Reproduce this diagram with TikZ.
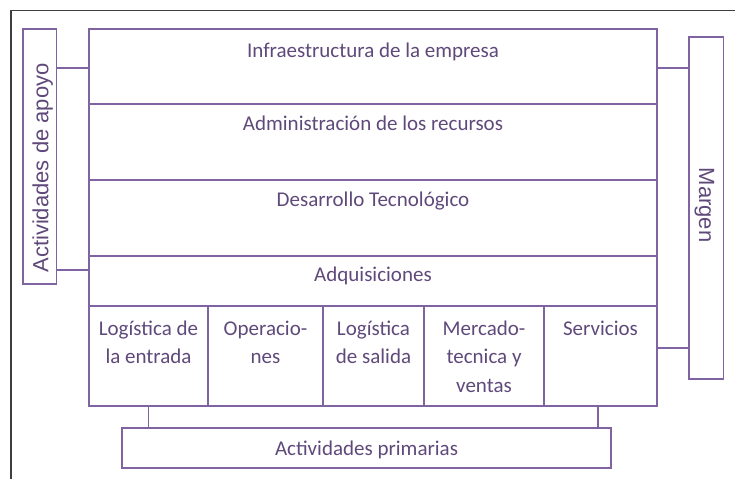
\documentclass[tikz,border=0pt]{standalone}
\usepackage{fontspec}
\setmainfont{Carlito}
\newfontfamily\arialf{Liberation Sans}
\usetikzlibrary{calc}
\definecolor{lin}{HTML}{8064A2}
\definecolor{txt}{HTML}{5F497A}
\definecolor{frm}{HTML}{3F3F3F}
\begin{document}
\begin{tikzpicture}[x=1pt,y=-1pt,
  box/.style={draw=lin, line width=1.3pt, inner sep=0pt, outer sep=0pt, anchor=north west},
  lbl/.style={text=txt, font=\fontsize{21}{28.5}\selectfont, inner sep=0pt, anchor=base},
  side/.style={text=txt, font=\arialf\fontsize{22}{26}\selectfont, inner sep=0pt, anchor=base},
  conn/.style={draw=lin, line width=1.3pt},
  frame/.style={draw=frm, line width=1.3pt}]
\useasboundingbox (0,0) rectangle (735,479);
% outer frame
\coordinate (fA) at (11,479);
\coordinate (fB) at (11,10.5);
\coordinate (fC) at (735,10.5);
\draw[frame] (fA) -- (fB) -- (fC);
% support rows
\node[box, minimum width=568pt, minimum height=75pt] (infra) at (89,29) {};
\node[box, minimum width=568pt, minimum height=76pt] (admin) at (89,104) {};
\node[box, minimum width=568pt, minimum height=76pt] (desa) at (89,180) {};
\node[box, minimum width=568pt, minimum height=50pt] (adq) at (89,256) {};
% primary columns
\node[box, minimum width=119pt, minimum height=100pt] (log1) at (89,306) {};
\node[box, minimum width=115pt, minimum height=100pt] (oper) at (208,306) {};
\node[box, minimum width=101pt, minimum height=100pt] (log2) at (323,306) {};
\node[box, minimum width=120pt, minimum height=100pt] (merc) at (424,306) {};
\node[box, minimum width=113pt, minimum height=100pt] (serv) at (544,306) {};
% side boxes
\node[box, minimum width=33.5pt, minimum height=255pt] (apoyo) at (23,29) {};
\node[box, minimum width=34.5pt, minimum height=342pt] (margen) at (689,37) {};
\node[box, minimum width=489pt, minimum height=40pt] (prim) at (122,428) {};
% texts
\node[lbl] (tinfra) at (373,57.5) {Infraestructura de la empresa};
\node[lbl] (tadmin) at (373,130.8) {Administración de los recursos};
\node[lbl] (tdesa) at (373,206.5) {Desarrollo Tecnológico};
\node[lbl] (tadq) at (373,281.5) {Adquisiciones};
\node[lbl] (tlog1) at (148.5,335) {\begin{tabular}[t]{@{}c@{}}Logística de\\la entrada\end{tabular}};
\node[lbl] (toper) at (265.5,335) {\begin{tabular}[t]{@{}c@{}}Operacio-\\nes\end{tabular}};
\node[lbl] (tlog2) at (373.5,335) {\begin{tabular}[t]{@{}c@{}}Logística\\de salida\end{tabular}};
\node[lbl] (tmerc) at (484,335) {\begin{tabular}[t]{@{}c@{}}Mercado-\\tecnica y\\ventas\end{tabular}};
\node[lbl] (tserv) at (600.5,335) {Servicios};
\node[lbl] (tprim) at (366.5,455.7) {Actividades primarias};
\node[side, rotate=90] (tapoyo) at (48.3,168) {Actividades de apoyo};
\node[side, rotate=-90] (tmargen) at (699,205) {Margen};
% connectors
\coordinate (yA) at (0,68);
\coordinate (yB) at (0,270);
\coordinate (yC) at (0,348);
\coordinate (xR) at (598,0);
\draw[conn] (apoyo.east |- yA) -- (infra.west |- yA);
\draw[conn] (apoyo.east |- yB) -- (adq.west |- yB);
\draw[conn] (infra.east |- yA) -- (margen.west |- yA);
\draw[conn] (serv.east |- yC) -- (margen.west |- yC);
\draw[conn] (log1.south) -- (log1.south |- prim.north);
\draw[conn] (serv.south -| xR) -- (prim.north -| xR);
\end{tikzpicture}
\end{document}
